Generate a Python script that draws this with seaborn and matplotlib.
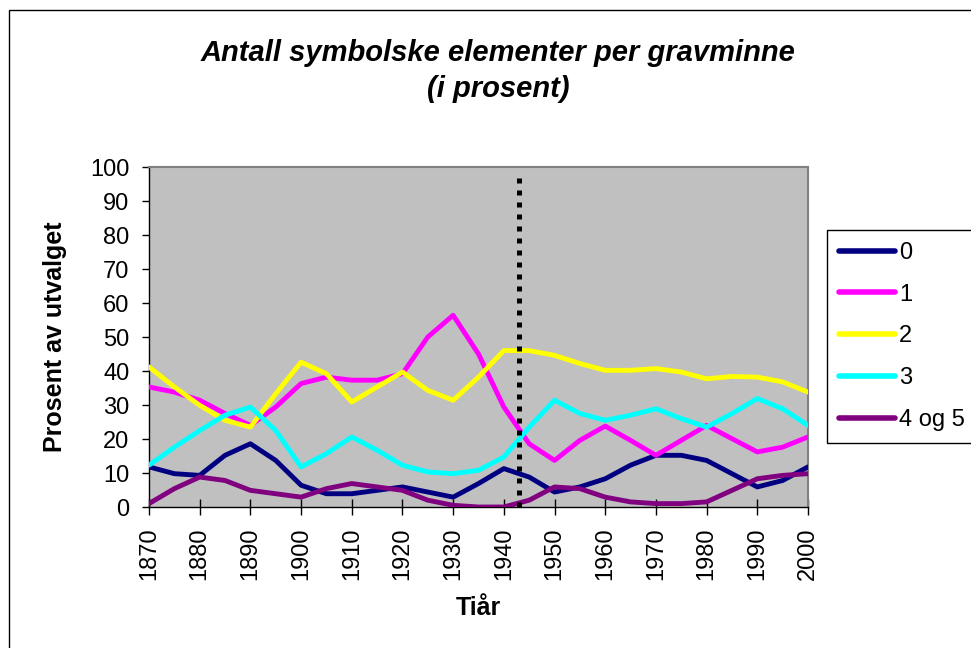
import numpy as np
import pandas as pd
import matplotlib
matplotlib.use("Agg")
import matplotlib.pyplot as plt
import seaborn as sns
from matplotlib.patches import Rectangle

years = list(range(1870, 2001, 5))
s0 = [11.8, 9.8, 9.3, 15.2, 18.6, 13.7, 6.4, 3.9, 3.9, 4.9, 5.9, 4.4, 2.9, 6.9,
      11.3, 8.8, 4.4, 5.9, 8.3, 12.3, 15.2, 15.2, 13.7, 9.8, 5.9, 7.8, 11.8]
s1 = [35.3, 33.8, 31.4, 27.5, 24.0, 29.4, 36.3, 38.2, 37.3, 37.3, 39.2, 50.0, 56.4, 45.0,
      29.4, 18.6, 13.7, 19.6, 23.8, 19.6, 15.2, 19.6, 24.0, 20.1, 16.2, 17.6, 20.6]
s2 = [41.2, 35.3, 29.9, 25.5, 23.5, 33.3, 42.6, 39.2, 30.9, 35.3, 39.7, 34.3, 31.4, 38.2,
      46.0, 46.0, 44.6, 42.2, 40.2, 40.2, 40.7, 39.7, 37.7, 38.4, 38.2, 36.8, 33.8]
s3 = [12.3, 17.6, 22.5, 27.0, 29.4, 22.5, 11.8, 15.7, 20.6, 16.7, 12.3, 10.3, 9.8, 10.8,
      14.7, 23.5, 31.4, 27.5, 25.5, 27.0, 28.9, 26.0, 23.5, 27.5, 31.9, 28.9, 24.0]
s4 = [1.0, 5.4, 8.8, 7.8, 4.9, 3.9, 2.9, 5.4, 6.9, 5.9, 4.9, 2.0, 0.5, 0.0,
      0.0, 2.0, 5.9, 5.4, 2.9, 1.5, 1.0, 1.0, 1.5, 4.9, 8.3, 9.3, 9.8]
series_labels = ["0", "1", "2", "3", "4 og 5"]
colors = ["#000080", "#FF00FF", "#FFFF00", "#00FFFF", "#800080"]
xticks = list(range(1870, 2001, 10))
yticks = list(range(0, 101, 10))
split_year = 1943

sns.set_style("white")
plt.rcParams["font.family"] = ["Liberation Sans", "DejaVu Sans"]
plt.rcParams["text.color"] = "black"
plt.rcParams["axes.labelcolor"] = "black"
plt.rcParams["xtick.color"] = "black"
plt.rcParams["ytick.color"] = "black"

df = pd.DataFrame({
    "Tiår": years * 5,
    "Prosent": s0 + s1 + s2 + s3 + s4,
    "Antall": np.repeat(series_labels, len(years)),
})

fig = plt.figure(figsize=(9.71, 6.48), dpi=100)
ax = fig.add_axes([149 / 971, 1 - 507 / 648, 659 / 971, 340 / 648])
sns.lineplot(df, x="Tiår", y="Prosent", hue="Antall", palette=colors, lw=3.5,
             solid_joinstyle="round", solid_capstyle="round", ax=ax, zorder=3)

ax.vlines(split_year, 0, 97.5, colors="black", lw=3.6, linestyles=(0, (1, 1.4)), zorder=4)

ax.set_facecolor("#C0C0C0")
ax.set_xlim(1870, 2000)
ax.set_ylim(0, 100)
ax.set_xticks(xticks)
ax.set_yticks(yticks)
ax.set_xticklabels([str(t) for t in xticks], rotation=90)
ax.tick_params(axis="x", direction="inout", length=11, width=1, pad=9, labelsize=17, bottom=True)
ax.tick_params(axis="y", direction="out", length=5, width=1, pad=9, labelsize=17, left=True)
for side in ["top", "right"]:
    ax.spines[side].set_color("#808080")
    ax.spines[side].set_linewidth(1.5)
for side in ["left", "bottom"]:
    ax.spines[side].set_color("black")
    ax.spines[side].set_linewidth(1)

ax.set_xlabel("Tiår", fontsize=18, fontweight="bold", labelpad=12)
ax.set_ylabel("Prosent av utvalget", fontsize=18, fontweight="bold", labelpad=17)

fig.text(498 / 971, 1 - 71 / 648, "Antall symbolske elementer per gravminne\n(i prosent)",
         ha="center", va="center", fontsize=21, fontweight="bold", style="italic", linespacing=1.4)

handles, labels = ax.get_legend_handles_labels()
leg = ax.legend(handles, labels, loc="upper left", bbox_to_anchor=(827 / 971, 1 - 230 / 648),
                bbox_transform=fig.transFigure, frameon=True, fancybox=False, framealpha=1,
                edgecolor="black", fontsize=17, handlelength=2.4, handletextpad=0.15,
                labelspacing=0.84, borderpad=0.5, borderaxespad=0)
leg.get_frame().set_linewidth(1)
for h in leg.get_lines():
    h.set_linewidth(4)
    h.set_solid_capstyle("round")

fig.patches.append(Rectangle((9 / 971, -0.1), 1.2, 1 - 10 / 648 + 0.1, transform=fig.transFigure,
                             fill=False, edgecolor="black", lw=1))

fig.savefig("out.png", dpi=100)
